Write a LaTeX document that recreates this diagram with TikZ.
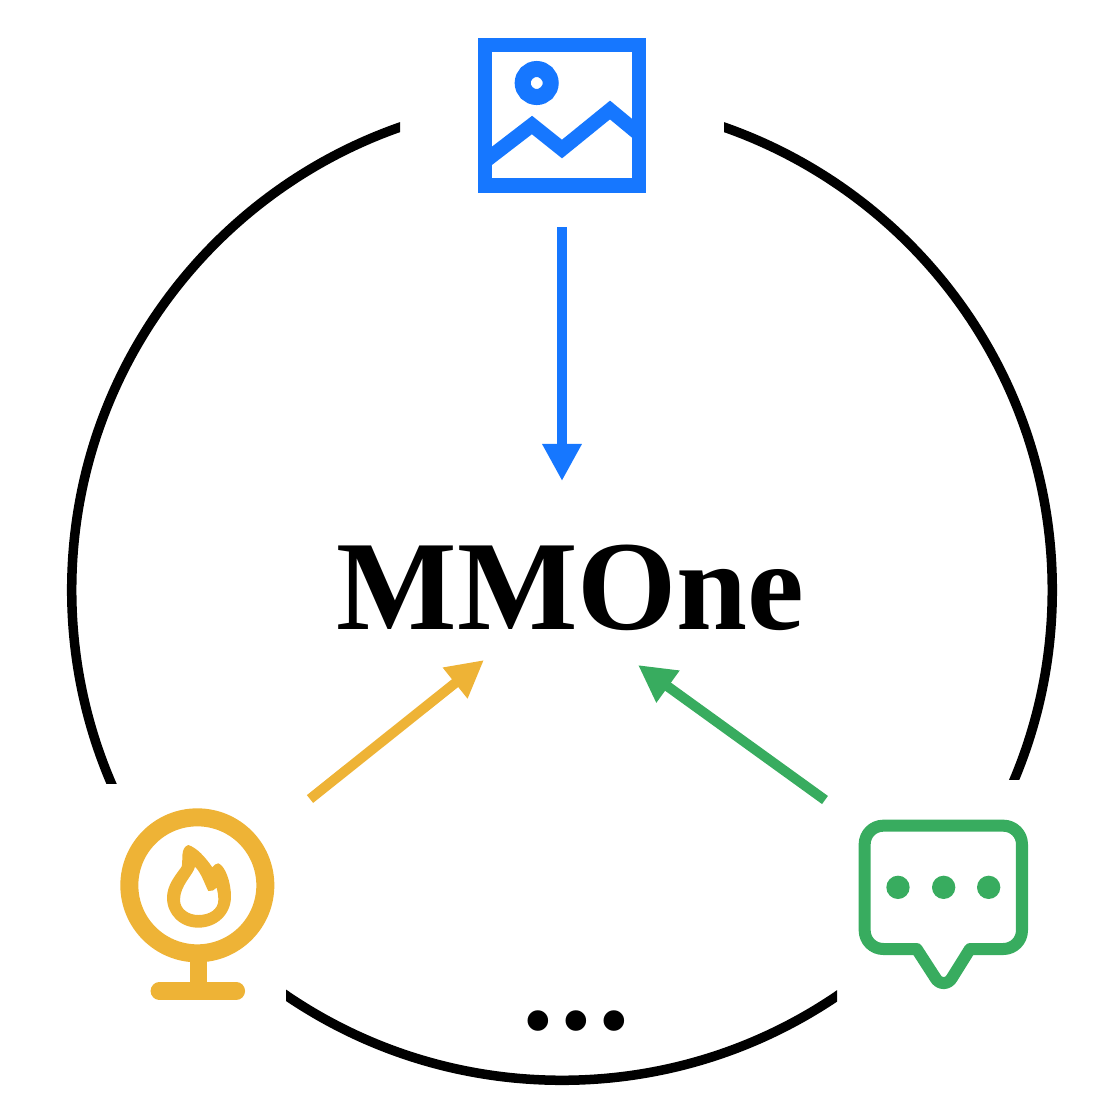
\documentclass[tikz,border=0pt]{standalone}
\usepackage{fontspec}
\setmainfont{Liberation Serif}
\usetikzlibrary{arrows.meta}
\definecolor{iblue}{HTML}{1677FF}
\definecolor{iorange}{HTML}{EEB336}
\definecolor{igreen}{HTML}{38AC5F}
\tikzset{
  ringarc/.style={draw=black,line width=.095cm},
  flow/.style={line width=.1cm,-{Triangle[length=.37cm,width=.37cm]}},
  title/.style={font=\bfseries\fontsize{36.3pt}{40pt}\selectfont,text=black,inner sep=0pt},
}
\begin{document}
\begin{tikzpicture}[x=.01cm,y=-.01cm]
\useasboundingbox (0,0) rectangle (1114,1114);
% ring segments
\begin{scope}
  \clip (0,0) rectangle (400,783);
  \draw[ringarc] (562,590) circle [radius=4.9cm];
\end{scope}
\begin{scope}
  \clip (724,0) rectangle (1114,779);
  \draw[ringarc] (562,590) circle [radius=4.9cm];
\end{scope}
\begin{scope}
  \clip (286,900) rectangle (837,1114);
  \draw[ringarc] (562,590) circle [radius=4.9cm];
\end{scope}
% image icon
\draw[iblue,line width=.145cm] (485,45) rectangle (639,185.5);
\draw[iblue,line width=.16cm] (536.7,83) circle [radius=.14cm];
\begin{scope}
  \clip (485,45) rectangle (639,185.5);
  \draw[iblue,line width=.145cm,line join=miter] (480,165) -- (532,125) -- (562,149) -- (610,110) -- (645,139);
\end{scope}
% webcam icon
\begin{scope}[shift={(100,790)},scale=1/3]
  \draw[iorange,line width=.18cm] (292,286) circle [radius=204];
  \fill[iorange] (270,515) rectangle (322,585);
  \draw[iorange,line width=.175cm,line cap=round] (178,603) -- (409,603);
\end{scope}
\begin{scope}[shift={(155,835)},scale=1/3]
  \fill[iorange,even odd rule]
    (100,30) .. controls (125,38) and (150,65) .. (172,97)
    .. controls (178,90) and (183,85) .. (190,85)
    .. controls (210,92) and (228,140) .. (228,185)
    .. controls (228,238) and (185,278) .. (130,278)
    .. controls (75,278) and (36,238) .. (36,188)
    .. controls (36,150) and (62,120) .. (80,95)
    .. controls (85,75) and (75,38) .. (100,30) -- cycle
    (120,95) .. controls (115,120) and (75,150) .. (75,195)
    .. controls (75,222) and (100,240) .. (130,240)
    .. controls (165,240) and (190,222) .. (190,195)
    .. controls (190,180) and (188,170) .. (185,158)
    .. controls (178,165) and (170,170) .. (160,168)
    .. controls (150,150) and (140,115) .. (120,95) -- cycle;
\end{scope}
% chat icon
\begin{scope}[shift={(840,800)},scale=1/3]
  \draw[igreen,line width=.12cm,line join=round]
    (130,77) -- (490,77) .. controls (521,77) and (546,102) .. (546,133)
    -- (546,391) .. controls (546,422) and (521,447) .. (490,447)
    -- (390,447) -- (337,532) .. controls (325,555) and (297,555) .. (285,532)
    -- (230,447) -- (130,447) .. controls (99,447) and (74,422) .. (74,391)
    -- (74,133) .. controls (74,102) and (99,77) .. (130,77) -- cycle;
  \fill[igreen] (174,262) circle [radius=35] (311,262) circle [radius=35] (446,262) circle [radius=35];
\end{scope}
% text
\node[title,anchor=base] (mm) at (570.5,629) {MMOne};
\node[font=\bfseries\fontsize{36pt}{40pt}\selectfont,inner sep=0pt,anchor=base] (dots) at (576,1029) {.\kern.064cm.\kern.064cm.};
% connector ends
\coordinate (bs) at (562,227);
\coordinate (bt) at (562,481);
\coordinate (os) at (310,799);
\coordinate (ot) at (484,660);
\coordinate (gs) at (825,800);
\coordinate (gt) at (638,665);
\draw[flow,iblue] (bs) -- (bt);
\draw[flow,iorange] (os) -- (ot);
\draw[flow,igreen] (gs) -- (gt);
\end{tikzpicture}
\end{document}
